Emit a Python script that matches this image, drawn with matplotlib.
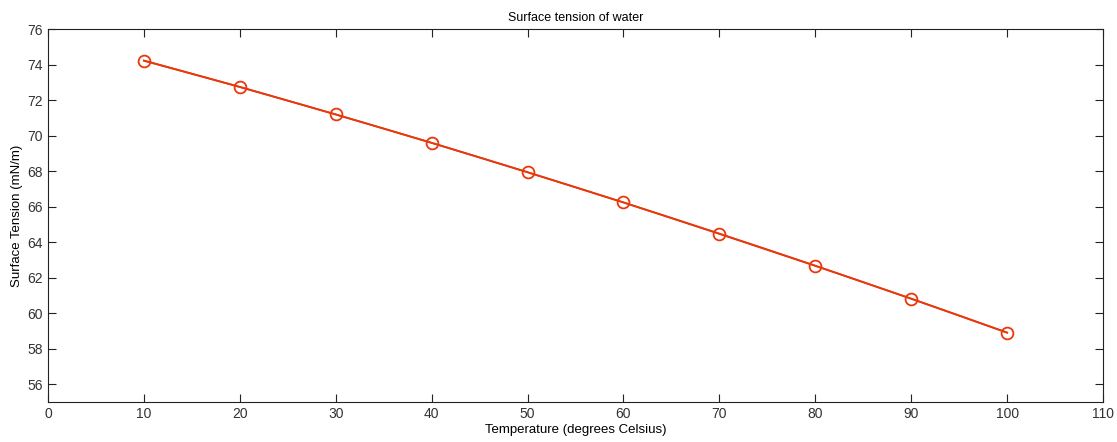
import numpy as np
import matplotlib
matplotlib.use('Agg')
import matplotlib.pyplot as plt

plt.rcParams['font.family'] = ['Liberation Sans', 'DejaVu Sans']

temp = [10, 20, 30, 40, 50, 60, 70, 80, 90, 100]
tension = [74.22, 72.75, 71.20, 69.60, 67.94, 66.24, 64.47, 62.67, 60.82, 58.91]
xticks = list(range(0, 111, 10))
yticks = list(range(56, 77, 2))

# smooth fit through the measured points
coef = np.polyfit(temp, tension, 2)
tfit = np.linspace(temp[0], temp[-1], 200)

fig = plt.figure(figsize=(11.17, 4.42), dpi=100)
ax = fig.add_axes([0.043, 0.0905, 0.9445, 0.8435])
ax.plot(tfit, np.polyval(coef, tfit), color='#d8401c', lw=1.3)
ax.plot(temp, tension, color='#e8380c', lw=1.3, marker='o', ms=8.5,
        mfc='none', mec='#e8380c', mew=1.3)

ax.set_xlim(0, 110)
ax.set_ylim(55, 76)
ax.set_xticks(xticks)
ax.set_yticks(yticks)
ax.tick_params(direction='in', top=True, right=True, length=6, width=0.8,
               labelsize=10, color='#222222', labelcolor='#333333')
for s in ax.spines.values():
    s.set_linewidth(0.8)
    s.set_color('#222222')
ax.set_title('Surface tension of water', fontsize=9, pad=6)
ax.set_xlabel('Temperature (degrees Celsius)', fontsize=9.5, labelpad=2)
ax.set_ylabel('Surface Tension (mN/m)', fontsize=9.5, labelpad=3)

fig.savefig('out.png', dpi=100)
